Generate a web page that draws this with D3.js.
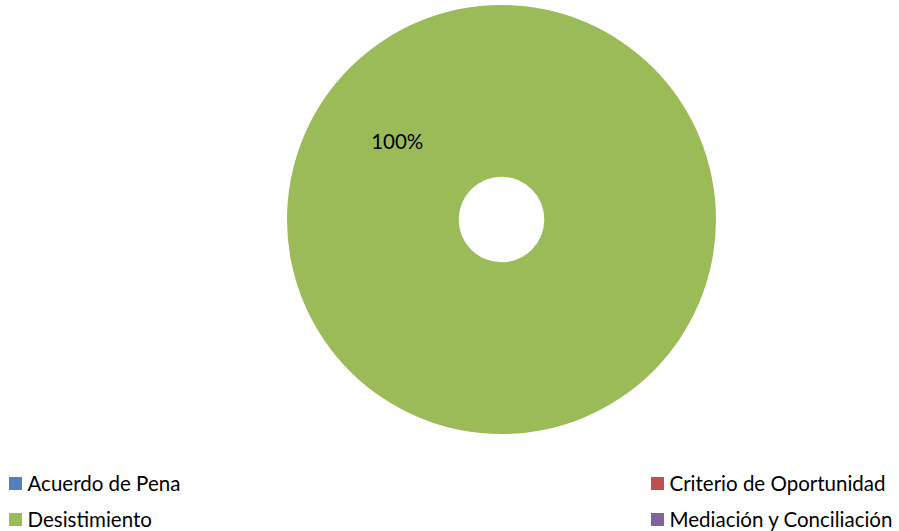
<!DOCTYPE html>
<html><head><meta charset="utf-8">
<script src="https://cdn.jsdelivr.net/npm/d3@7"></script>
<style>html,body{margin:0;padding:0;background:#fff;}svg{display:block;}</style>
</head><body>
<script>
const categories = ["Acuerdo de Pena", "Criterio de Oportunidad", "Desistimiento", "Mediación y Conciliación"];
const values = [0, 0, 100, 0];
const colors = ["#4F81BD", "#C0504D", "#9BBB59", "#8064A2"];
const labelText = ["", "", "100%", ""];

const W = 899, H = 531;
const svg = d3.select("body").append("svg").attr("width", W).attr("height", H);
const cx = 501.5, cy = 219.5, rOuter = 214.5, rInner = 42.8;
const g = svg.append("g").attr("transform", `translate(${cx},${cy})`);
const pie = d3.pie().sort(null).value(d => d)(values);
const arc = d3.arc().innerRadius(rInner).outerRadius(rOuter);
g.selectAll("path").data(pie).enter().append("path")
  .attr("d", arc).attr("fill", (d, i) => colors[i]);

const font = "Lato, 'Open Sans', sans-serif";
// label position: Excel puts the single-slice label in the upper-left
const labelArc = d3.arc().innerRadius(rInner).outerRadius(rOuter);
pie.forEach((d, i) => {
  if (!labelText[i]) return;
  const a = 307 * Math.PI / 180;
  const c = labelArc.centroid({startAngle: a, endAngle: a});
  g.append("text").attr("x", c[0] - 1.5).attr("y", c[1]).attr("dy", "0.35em")
    .attr("text-anchor", "middle").attr("font-family", font)
    .attr("font-size", 20.5).attr("fill", "#000").text(labelText[i]);
});

// legend
const legX = [9, 651], legY = [483.5, 519.5];
categories.forEach((c, i) => {
  const x = legX[i % 2], y = legY[Math.floor(i / 2)];
  svg.append("rect").attr("x", x).attr("y", y - 6.5).attr("width", 13).attr("height", 13).attr("fill", colors[i]);
  svg.append("text").attr("x", x + 18.5).attr("y", y).attr("dy", "0.35em")
    .attr("font-family", font).attr("font-size", 20.5)
    .attr("fill", "#000").text(c);
});
</script>
</body></html>
